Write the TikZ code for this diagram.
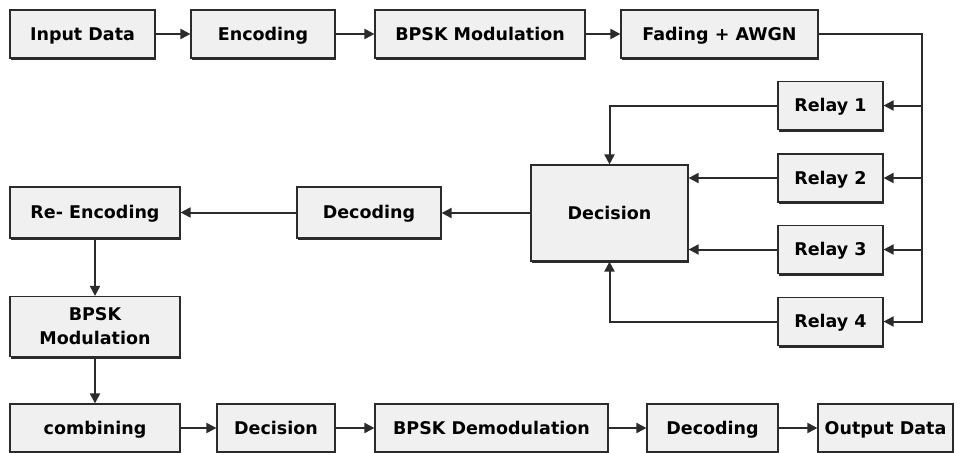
\documentclass[tikz,border=0pt]{standalone}
\usepackage{fontspec}
\setmainfont{DejaVu Sans}
\usepackage{tikz}
\usetikzlibrary{arrows.meta,shadows}
\definecolor{boxfill}{HTML}{F0F0F0}
\definecolor{linegray}{HTML}{2B2B2B}

\tikzset{
	blk/.style={draw=linegray, line width=1.2pt, fill=boxfill, minimum height=48pt,
		inner sep=0pt, align=center, text height=12.8pt, text depth=0pt,
		font=\fontsize{17.5}{24}\selectfont\bfseries,
		drop shadow={shadow xshift=0.6pt, shadow yshift=-2pt, fill=linegray, opacity=1}},
	conn/.style={draw=linegray, line width=2pt},
	arr/.style={conn, -{Triangle[length=10pt,width=10pt]}}
}

\begin{document}
\begin{tikzpicture}[x=1pt, y=-1pt]
		\useasboundingbox (0,0) rectangle (965,452);
		% Os blocos do transmissor...
			\node[blk, minimum width=145pt] (input) at (82.5,34) {Input Data};
			\node[blk, minimum width=144pt] (enc) at (263,34) {Encoding};
			\node[blk, minimum width=210pt] (mod) at (480,34) {BPSK Modulation};
			\node[blk, minimum width=197pt] (fading) at (719.5,34) {Fading + AWGN};

		% Os relays e a decisao
			\node[blk, minimum width=105pt] (relayA) at (830.5,105.5) {Relay 1};
			\node[blk, minimum width=105pt] (relayB) at (830.5,178) {Relay 2};
			\node[blk, minimum width=105pt] (relayC) at (830.5,249.5) {Relay 3};
			\node[blk, minimum width=105pt] (relayD) at (830.5,321.5) {Relay 4};
			\node[blk, minimum width=157pt, minimum height=96pt] (decision) at (609.5,213) {Decision};
			\node[blk, minimum width=144pt, minimum height=51pt] (decod) at (369,212.5) {Decoding};
			\node[blk, minimum width=170pt, minimum height=51pt] (reenc) at (95,212.5) {Re- Encoding};
			\node[blk, minimum width=170pt, minimum height=60pt, text height=36.8pt] (remod) at (95,326.5) {BPSK\\Modulation};

		% A fila de baixo (receptor)
			\node[blk, minimum width=170pt] (comb) at (95,428) {combining};
			\node[blk, minimum width=118pt] (decisionB) at (276,428) {Decision};
			\node[blk, minimum width=233pt] (demod) at (491.5,428) {BPSK Demodulation};
			\node[blk, minimum width=131pt] (decodB) at (712.5,428) {Decoding};
			\node[blk, minimum width=135pt] (output) at (885.5,428) {Output Data};

		% As setas
			\coordinate (bus) at (922,0);
			\draw[arr] (input) -- (enc);
			\draw[arr] (enc) -- (mod);
			\draw[arr] (mod) -- (fading);
			\draw[arr] (fading.east) -| (bus |- relayD) -- (relayD.east);
			\draw[arr] (bus |- relayA) -- (relayA.east);
			\draw[arr] (bus |- relayB) -- (relayB.east);
			\draw[arr] (bus |- relayC) -- (relayC.east);
			\draw[arr] (relayA.west) -| (decision.north);
			\draw[arr] (relayB.west) -- (relayB.west -| decision.east);
			\draw[arr] (relayC.west) -- (relayC.west -| decision.east);
			\draw[arr] (relayD.west) -| (decision.south);
			\draw[arr] (decision.west) -- (decision.west -| decod.east);
			\draw[arr] (decod) -- (reenc);
			\draw[arr] (reenc) -- (remod);
			\draw[arr] (remod) -- (comb);
			\draw[arr] (comb) -- (decisionB);
			\draw[arr] (decisionB) -- (demod);
			\draw[arr] (demod) -- (decodB);
			\draw[arr] (decodB) -- (output);
	\end{tikzpicture}
\end{document}
